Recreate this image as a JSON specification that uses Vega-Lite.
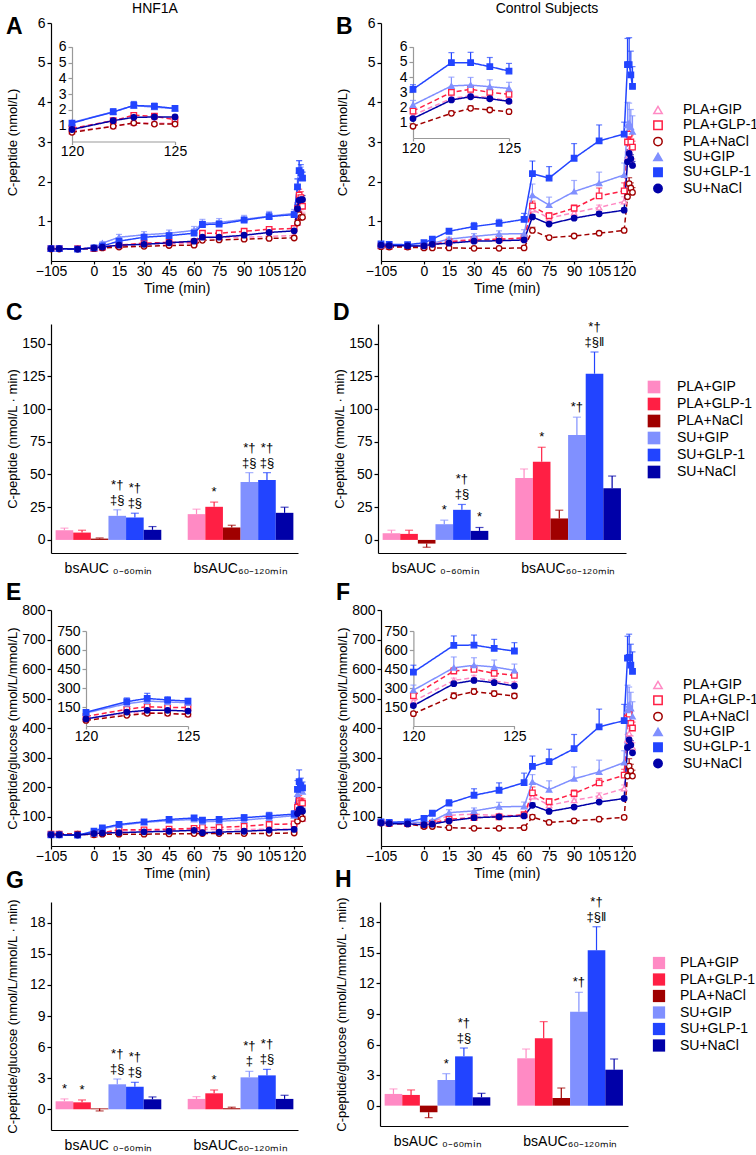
{
"$schema":"https://vega.github.io/schema/vega-lite/v6.json",
"padding":{"left":5,"top":2,"right":0,"bottom":0},
"background":"white",
"config":{
 "font":"Liberation Sans",
 "view":{"stroke":null},
 "axis":{"grid":false,"labelFontSize":14,"titleFontSize":13,"titleFontWeight":"normal","domainColor":"#000","tickColor":"#000","labelColor":"#000","titleColor":"#000","domainWidth":1.2,"tickWidth":1.2,"tickSize":4,"labelPadding":2},
 "axisX":{"tickSize":3,"labelPadding":0,"titlePadding":3},
 "axisY":{"minExtent":28,"maxExtent":28,"titlePadding":4},
 "legend":{"labelFontSize":14,"labelColor":"#000","padding":0,"rowPadding":0.3,"symbolSize":70,"symbolStrokeWidth":1.5,"labelOffset":18},
 "title":{"fontSize":23,"fontWeight":"bold","anchor":"start","frame":"bounds","color":"#000"}
},
"datasets":{
"lines":[
{"p":"A","g":"PLA+GIP","t":-105,"v":0.31,"h":0.33},{"p":"A","g":"PLA+GIP","t":-85,"v":0.31,"h":0.33},{"p":"A","g":"PLA+GIP","t":-40,"v":0.30,"h":0.32},{"p":"A","g":"PLA+GIP","t":0,"v":0.31,"h":0.33},{"p":"A","g":"PLA+GIP","t":5,"v":0.34,"h":0.36},{"p":"A","g":"PLA+GIP","t":15,"v":0.38,"h":0.41},{"p":"A","g":"PLA+GIP","t":30,"v":0.42,"h":0.45},{"p":"A","g":"PLA+GIP","t":45,"v":0.44,"h":0.47},{"p":"A","g":"PLA+GIP","t":60,"v":0.45,"h":0.48},{"p":"A","g":"PLA+GIP","t":65,"v":0.58,"h":0.63},{"p":"A","g":"PLA+GIP","t":75,"v":0.60,"h":0.65},{"p":"A","g":"PLA+GIP","t":90,"v":0.60,"h":0.65},{"p":"A","g":"PLA+GIP","t":105,"v":0.62,"h":0.67},{"p":"A","g":"PLA+GIP","t":120,"v":0.64,"h":0.69},{"p":"A","g":"PLA+GIP","t":122,"v":0.96,"h":1.06},{"p":"A","g":"PLA+GIP","t":123,"v":1.17,"h":1.29},{"p":"A","g":"PLA+GIP","t":124,"v":1.17,"h":1.29},{"p":"A","g":"PLA+GIP","t":125,"v":1.13,"h":1.23},
{"p":"A","g":"PLA+GLP-1","t":-105,"v":0.31,"h":0.33},{"p":"A","g":"PLA+GLP-1","t":-85,"v":0.31,"h":0.33},{"p":"A","g":"PLA+GLP-1","t":-40,"v":0.31,"h":0.33},{"p":"A","g":"PLA+GLP-1","t":0,"v":0.32,"h":0.34},{"p":"A","g":"PLA+GLP-1","t":5,"v":0.35,"h":0.37},{"p":"A","g":"PLA+GLP-1","t":15,"v":0.40,"h":0.43},{"p":"A","g":"PLA+GLP-1","t":30,"v":0.45,"h":0.48},{"p":"A","g":"PLA+GLP-1","t":45,"v":0.47,"h":0.50},{"p":"A","g":"PLA+GLP-1","t":60,"v":0.48,"h":0.51},{"p":"A","g":"PLA+GLP-1","t":65,"v":0.70,"h":0.76},{"p":"A","g":"PLA+GLP-1","t":75,"v":0.70,"h":0.76},{"p":"A","g":"PLA+GLP-1","t":90,"v":0.75,"h":0.81},{"p":"A","g":"PLA+GLP-1","t":105,"v":0.80,"h":0.86},{"p":"A","g":"PLA+GLP-1","t":120,"v":0.82,"h":0.88},{"p":"A","g":"PLA+GLP-1","t":122,"v":1.32,"h":1.47},{"p":"A","g":"PLA+GLP-1","t":123,"v":1.66,"h":1.81},{"p":"A","g":"PLA+GLP-1","t":124,"v":1.60,"h":1.75},{"p":"A","g":"PLA+GLP-1","t":125,"v":1.38,"h":1.50},
{"p":"A","g":"PLA+NaCl","t":-105,"v":0.30,"h":0.32},{"p":"A","g":"PLA+NaCl","t":-85,"v":0.30,"h":0.32},{"p":"A","g":"PLA+NaCl","t":-40,"v":0.30,"h":0.32},{"p":"A","g":"PLA+NaCl","t":0,"v":0.31,"h":0.33},{"p":"A","g":"PLA+NaCl","t":5,"v":0.33,"h":0.35},{"p":"A","g":"PLA+NaCl","t":15,"v":0.35,"h":0.37},{"p":"A","g":"PLA+NaCl","t":30,"v":0.37,"h":0.39},{"p":"A","g":"PLA+NaCl","t":45,"v":0.39,"h":0.41},{"p":"A","g":"PLA+NaCl","t":60,"v":0.40,"h":0.42},{"p":"A","g":"PLA+NaCl","t":65,"v":0.52,"h":0.56},{"p":"A","g":"PLA+NaCl","t":75,"v":0.53,"h":0.57},{"p":"A","g":"PLA+NaCl","t":90,"v":0.55,"h":0.59},{"p":"A","g":"PLA+NaCl","t":105,"v":0.57,"h":0.61},{"p":"A","g":"PLA+NaCl","t":120,"v":0.58,"h":0.62},{"p":"A","g":"PLA+NaCl","t":122,"v":0.96,"h":1.04},{"p":"A","g":"PLA+NaCl","t":123,"v":1.17,"h":1.25},{"p":"A","g":"PLA+NaCl","t":124,"v":1.10,"h":1.18},{"p":"A","g":"PLA+NaCl","t":125,"v":1.10,"h":1.18},
{"p":"A","g":"SU+GIP","t":-105,"v":0.31,"h":0.33},{"p":"A","g":"SU+GIP","t":-85,"v":0.31,"h":0.33},{"p":"A","g":"SU+GIP","t":-40,"v":0.30,"h":0.32},{"p":"A","g":"SU+GIP","t":0,"v":0.33,"h":0.35},{"p":"A","g":"SU+GIP","t":5,"v":0.45,"h":0.49},{"p":"A","g":"SU+GIP","t":15,"v":0.60,"h":0.67},{"p":"A","g":"SU+GIP","t":30,"v":0.66,"h":0.74},{"p":"A","g":"SU+GIP","t":45,"v":0.70,"h":0.78},{"p":"A","g":"SU+GIP","t":60,"v":0.77,"h":0.87},{"p":"A","g":"SU+GIP","t":65,"v":0.95,"h":1.05},{"p":"A","g":"SU+GIP","t":75,"v":0.97,"h":1.07},{"p":"A","g":"SU+GIP","t":90,"v":1.05,"h":1.15},{"p":"A","g":"SU+GIP","t":105,"v":1.13,"h":1.25},{"p":"A","g":"SU+GIP","t":120,"v":1.20,"h":1.30},{"p":"A","g":"SU+GIP","t":122,"v":1.87,"h":2.07},{"p":"A","g":"SU+GIP","t":123,"v":2.28,"h":2.53},{"p":"A","g":"SU+GIP","t":124,"v":2.17,"h":2.37},{"p":"A","g":"SU+GIP","t":125,"v":2.09,"h":2.24},
{"p":"A","g":"SU+GLP-1","t":-105,"v":0.31,"h":0.33},{"p":"A","g":"SU+GLP-1","t":-85,"v":0.31,"h":0.33},{"p":"A","g":"SU+GLP-1","t":-40,"v":0.30,"h":0.32},{"p":"A","g":"SU+GLP-1","t":0,"v":0.33,"h":0.35},{"p":"A","g":"SU+GLP-1","t":5,"v":0.38,"h":0.41},{"p":"A","g":"SU+GLP-1","t":15,"v":0.50,"h":0.55},{"p":"A","g":"SU+GLP-1","t":30,"v":0.60,"h":0.66},{"p":"A","g":"SU+GLP-1","t":45,"v":0.64,"h":0.70},{"p":"A","g":"SU+GLP-1","t":60,"v":0.70,"h":0.80},{"p":"A","g":"SU+GLP-1","t":65,"v":0.92,"h":1.00},{"p":"A","g":"SU+GLP-1","t":75,"v":0.93,"h":1.01},{"p":"A","g":"SU+GLP-1","t":90,"v":1.03,"h":1.11},{"p":"A","g":"SU+GLP-1","t":105,"v":1.12,"h":1.22},{"p":"A","g":"SU+GLP-1","t":120,"v":1.17,"h":1.25},{"p":"A","g":"SU+GLP-1","t":122,"v":1.87,"h":2.07},{"p":"A","g":"SU+GLP-1","t":123,"v":2.28,"h":2.53},{"p":"A","g":"SU+GLP-1","t":124,"v":2.23,"h":2.43},{"p":"A","g":"SU+GLP-1","t":125,"v":2.09,"h":2.24},
{"p":"A","g":"SU+NaCl","t":-105,"v":0.31,"h":0.33},{"p":"A","g":"SU+NaCl","t":-85,"v":0.31,"h":0.33},{"p":"A","g":"SU+NaCl","t":-40,"v":0.30,"h":0.32},{"p":"A","g":"SU+NaCl","t":0,"v":0.33,"h":0.35},{"p":"A","g":"SU+NaCl","t":5,"v":0.35,"h":0.37},{"p":"A","g":"SU+NaCl","t":15,"v":0.40,"h":0.42},{"p":"A","g":"SU+NaCl","t":30,"v":0.42,"h":0.44},{"p":"A","g":"SU+NaCl","t":45,"v":0.46,"h":0.48},{"p":"A","g":"SU+NaCl","t":60,"v":0.50,"h":0.52},{"p":"A","g":"SU+NaCl","t":65,"v":0.60,"h":0.64},{"p":"A","g":"SU+NaCl","t":75,"v":0.60,"h":0.64},{"p":"A","g":"SU+NaCl","t":90,"v":0.65,"h":0.69},{"p":"A","g":"SU+NaCl","t":105,"v":0.72,"h":0.76},{"p":"A","g":"SU+NaCl","t":120,"v":0.76,"h":0.80},{"p":"A","g":"SU+NaCl","t":122,"v":1.32,"h":1.42},{"p":"A","g":"SU+NaCl","t":123,"v":1.53,"h":1.63},{"p":"A","g":"SU+NaCl","t":124,"v":1.55,"h":1.65},{"p":"A","g":"SU+NaCl","t":125,"v":1.55,"h":1.65},

{"p":"B","g":"PLA+GIP","t":-105,"v":0.38,"h":0.40},{"p":"B","g":"PLA+GIP","t":-85,"v":0.37,"h":0.39},{"p":"B","g":"PLA+GIP","t":-40,"v":0.37,"h":0.39},{"p":"B","g":"PLA+GIP","t":0,"v":0.38,"h":0.40},{"p":"B","g":"PLA+GIP","t":5,"v":0.42,"h":0.45},{"p":"B","g":"PLA+GIP","t":15,"v":0.50,"h":0.54},{"p":"B","g":"PLA+GIP","t":30,"v":0.55,"h":0.60},{"p":"B","g":"PLA+GIP","t":45,"v":0.55,"h":0.60},{"p":"B","g":"PLA+GIP","t":60,"v":0.57,"h":0.62},{"p":"B","g":"PLA+GIP","t":65,"v":1.30,"h":1.40},{"p":"B","g":"PLA+GIP","t":75,"v":1.08,"h":1.13},{"p":"B","g":"PLA+GIP","t":90,"v":1.22,"h":1.28},{"p":"B","g":"PLA+GIP","t":105,"v":1.35,"h":1.41},{"p":"B","g":"PLA+GIP","t":120,"v":1.50,"h":1.62},{"p":"B","g":"PLA+GIP","t":122,"v":2.60,"h":2.75},{"p":"B","g":"PLA+GIP","t":123,"v":2.78,"h":2.93},{"p":"B","g":"PLA+GIP","t":124,"v":2.65,"h":2.78},{"p":"B","g":"PLA+GIP","t":125,"v":2.45,"h":2.57},
{"p":"B","g":"PLA+GLP-1","t":-105,"v":0.38,"h":0.40},{"p":"B","g":"PLA+GLP-1","t":-85,"v":0.37,"h":0.39},{"p":"B","g":"PLA+GLP-1","t":-40,"v":0.36,"h":0.38},{"p":"B","g":"PLA+GLP-1","t":0,"v":0.37,"h":0.39},{"p":"B","g":"PLA+GLP-1","t":5,"v":0.42,"h":0.45},{"p":"B","g":"PLA+GLP-1","t":15,"v":0.48,"h":0.52},{"p":"B","g":"PLA+GLP-1","t":30,"v":0.53,"h":0.58},{"p":"B","g":"PLA+GLP-1","t":45,"v":0.55,"h":0.60},{"p":"B","g":"PLA+GLP-1","t":60,"v":0.58,"h":0.63},{"p":"B","g":"PLA+GLP-1","t":65,"v":1.39,"h":1.51},{"p":"B","g":"PLA+GLP-1","t":75,"v":1.14,"h":1.22},{"p":"B","g":"PLA+GLP-1","t":90,"v":1.33,"h":1.41},{"p":"B","g":"PLA+GLP-1","t":105,"v":1.64,"h":1.84},{"p":"B","g":"PLA+GLP-1","t":120,"v":1.77,"h":1.97},{"p":"B","g":"PLA+GLP-1","t":122,"v":3.00,"h":3.20},{"p":"B","g":"PLA+GLP-1","t":123,"v":3.20,"h":3.40},{"p":"B","g":"PLA+GLP-1","t":124,"v":3.00,"h":3.18},{"p":"B","g":"PLA+GLP-1","t":125,"v":2.87,"h":3.02},
{"p":"B","g":"PLA+NaCl","t":-105,"v":0.36,"h":0.38},{"p":"B","g":"PLA+NaCl","t":-85,"v":0.35,"h":0.37},{"p":"B","g":"PLA+NaCl","t":-40,"v":0.35,"h":0.37},{"p":"B","g":"PLA+NaCl","t":0,"v":0.33,"h":0.35},{"p":"B","g":"PLA+NaCl","t":5,"v":0.33,"h":0.35},{"p":"B","g":"PLA+NaCl","t":15,"v":0.33,"h":0.35},{"p":"B","g":"PLA+NaCl","t":30,"v":0.32,"h":0.34},{"p":"B","g":"PLA+NaCl","t":45,"v":0.32,"h":0.34},{"p":"B","g":"PLA+NaCl","t":60,"v":0.33,"h":0.35},{"p":"B","g":"PLA+NaCl","t":65,"v":0.77,"h":0.85},{"p":"B","g":"PLA+NaCl","t":75,"v":0.59,"h":0.62},{"p":"B","g":"PLA+NaCl","t":90,"v":0.63,"h":0.66},{"p":"B","g":"PLA+NaCl","t":105,"v":0.70,"h":0.73},{"p":"B","g":"PLA+NaCl","t":120,"v":0.77,"h":0.82},{"p":"B","g":"PLA+NaCl","t":122,"v":1.62,"h":1.77},{"p":"B","g":"PLA+NaCl","t":123,"v":1.95,"h":2.10},{"p":"B","g":"PLA+NaCl","t":124,"v":1.84,"h":1.97},{"p":"B","g":"PLA+NaCl","t":125,"v":1.73,"h":1.85},
{"p":"B","g":"SU+GIP","t":-105,"v":0.40,"h":0.42},{"p":"B","g":"SU+GIP","t":-85,"v":0.40,"h":0.42},{"p":"B","g":"SU+GIP","t":-40,"v":0.40,"h":0.42},{"p":"B","g":"SU+GIP","t":0,"v":0.40,"h":0.42},{"p":"B","g":"SU+GIP","t":5,"v":0.45,"h":0.48},{"p":"B","g":"SU+GIP","t":15,"v":0.55,"h":0.60},{"p":"B","g":"SU+GIP","t":30,"v":0.62,"h":0.69},{"p":"B","g":"SU+GIP","t":45,"v":0.68,"h":0.76},{"p":"B","g":"SU+GIP","t":60,"v":0.69,"h":0.79},{"p":"B","g":"SU+GIP","t":65,"v":1.66,"h":1.94},{"p":"B","g":"SU+GIP","t":75,"v":1.41,"h":1.61},{"p":"B","g":"SU+GIP","t":90,"v":1.75,"h":2.03},{"p":"B","g":"SU+GIP","t":105,"v":1.96,"h":2.24},{"p":"B","g":"SU+GIP","t":120,"v":2.17,"h":2.47},{"p":"B","g":"SU+GIP","t":122,"v":3.42,"h":4.00},{"p":"B","g":"SU+GIP","t":123,"v":3.48,"h":3.98},{"p":"B","g":"SU+GIP","t":124,"v":3.37,"h":3.82},{"p":"B","g":"SU+GIP","t":125,"v":3.26,"h":3.66},
{"p":"B","g":"SU+GLP-1","t":-105,"v":0.43,"h":0.46},{"p":"B","g":"SU+GLP-1","t":-85,"v":0.42,"h":0.45},{"p":"B","g":"SU+GLP-1","t":-40,"v":0.41,"h":0.44},{"p":"B","g":"SU+GLP-1","t":0,"v":0.46,"h":0.50},{"p":"B","g":"SU+GLP-1","t":5,"v":0.55,"h":0.59},{"p":"B","g":"SU+GLP-1","t":15,"v":0.75,"h":0.81},{"p":"B","g":"SU+GLP-1","t":30,"v":0.87,"h":0.97},{"p":"B","g":"SU+GLP-1","t":45,"v":0.95,"h":1.05},{"p":"B","g":"SU+GLP-1","t":60,"v":1.05,"h":1.20},{"p":"B","g":"SU+GLP-1","t":65,"v":2.20,"h":2.52},{"p":"B","g":"SU+GLP-1","t":75,"v":2.09,"h":2.38},{"p":"B","g":"SU+GLP-1","t":90,"v":2.59,"h":2.96},{"p":"B","g":"SU+GLP-1","t":105,"v":3.03,"h":3.43},{"p":"B","g":"SU+GLP-1","t":120,"v":3.20,"h":3.50},{"p":"B","g":"SU+GLP-1","t":122,"v":4.95,"h":5.61},{"p":"B","g":"SU+GLP-1","t":123,"v":4.95,"h":5.63},{"p":"B","g":"SU+GLP-1","t":124,"v":4.69,"h":5.29},{"p":"B","g":"SU+GLP-1","t":125,"v":4.40,"h":4.90},
{"p":"B","g":"SU+NaCl","t":-105,"v":0.40,"h":0.42},{"p":"B","g":"SU+NaCl","t":-85,"v":0.39,"h":0.41},{"p":"B","g":"SU+NaCl","t":-40,"v":0.38,"h":0.40},{"p":"B","g":"SU+NaCl","t":0,"v":0.38,"h":0.40},{"p":"B","g":"SU+NaCl","t":5,"v":0.42,"h":0.44},{"p":"B","g":"SU+NaCl","t":15,"v":0.45,"h":0.47},{"p":"B","g":"SU+NaCl","t":30,"v":0.50,"h":0.52},{"p":"B","g":"SU+NaCl","t":45,"v":0.51,"h":0.53},{"p":"B","g":"SU+NaCl","t":60,"v":0.53,"h":0.55},{"p":"B","g":"SU+NaCl","t":65,"v":1.11,"h":1.16},{"p":"B","g":"SU+NaCl","t":75,"v":0.93,"h":0.98},{"p":"B","g":"SU+NaCl","t":90,"v":1.08,"h":1.13},{"p":"B","g":"SU+NaCl","t":105,"v":1.19,"h":1.24},{"p":"B","g":"SU+NaCl","t":120,"v":1.28,"h":1.33},{"p":"B","g":"SU+NaCl","t":122,"v":2.50,"h":2.60},{"p":"B","g":"SU+NaCl","t":123,"v":2.71,"h":2.81},{"p":"B","g":"SU+NaCl","t":124,"v":2.58,"h":2.68},{"p":"B","g":"SU+NaCl","t":125,"v":2.41,"h":2.51},

{"p":"E","g":"PLA+GIP","t":-105,"v":40,"h":43},{"p":"E","g":"PLA+GIP","t":-85,"v":40,"h":43},{"p":"E","g":"PLA+GIP","t":-40,"v":40,"h":43},{"p":"E","g":"PLA+GIP","t":0,"v":40,"h":43},{"p":"E","g":"PLA+GIP","t":5,"v":45,"h":48},{"p":"E","g":"PLA+GIP","t":15,"v":52,"h":56},{"p":"E","g":"PLA+GIP","t":30,"v":52,"h":56},{"p":"E","g":"PLA+GIP","t":45,"v":54,"h":58},{"p":"E","g":"PLA+GIP","t":60,"v":55,"h":59},{"p":"E","g":"PLA+GIP","t":65,"v":56,"h":61},{"p":"E","g":"PLA+GIP","t":75,"v":56,"h":61},{"p":"E","g":"PLA+GIP","t":90,"v":56,"h":61},{"p":"E","g":"PLA+GIP","t":105,"v":57,"h":62},{"p":"E","g":"PLA+GIP","t":120,"v":58,"h":63},{"p":"E","g":"PLA+GIP","t":122,"v":100,"h":110},{"p":"E","g":"PLA+GIP","t":123,"v":105,"h":115},{"p":"E","g":"PLA+GIP","t":124,"v":100,"h":110},{"p":"E","g":"PLA+GIP","t":125,"v":92,"h":102},
{"p":"E","g":"PLA+GLP-1","t":-105,"v":40,"h":43},{"p":"E","g":"PLA+GLP-1","t":-85,"v":40,"h":43},{"p":"E","g":"PLA+GLP-1","t":-40,"v":40,"h":43},{"p":"E","g":"PLA+GLP-1","t":0,"v":40,"h":43},{"p":"E","g":"PLA+GLP-1","t":5,"v":45,"h":48},{"p":"E","g":"PLA+GLP-1","t":15,"v":55,"h":59},{"p":"E","g":"PLA+GLP-1","t":30,"v":55,"h":59},{"p":"E","g":"PLA+GLP-1","t":45,"v":57,"h":62},{"p":"E","g":"PLA+GLP-1","t":60,"v":60,"h":65},{"p":"E","g":"PLA+GLP-1","t":65,"v":63,"h":69},{"p":"E","g":"PLA+GLP-1","t":75,"v":63,"h":69},{"p":"E","g":"PLA+GLP-1","t":90,"v":67,"h":75},{"p":"E","g":"PLA+GLP-1","t":105,"v":73,"h":81},{"p":"E","g":"PLA+GLP-1","t":120,"v":75,"h":83},{"p":"E","g":"PLA+GLP-1","t":122,"v":132,"h":147},{"p":"E","g":"PLA+GLP-1","t":123,"v":153,"h":171},{"p":"E","g":"PLA+GLP-1","t":124,"v":147,"h":162},{"p":"E","g":"PLA+GLP-1","t":125,"v":145,"h":160},
{"p":"E","g":"PLA+NaCl","t":-105,"v":40,"h":43},{"p":"E","g":"PLA+NaCl","t":-85,"v":40,"h":43},{"p":"E","g":"PLA+NaCl","t":-40,"v":40,"h":43},{"p":"E","g":"PLA+NaCl","t":0,"v":38,"h":41},{"p":"E","g":"PLA+NaCl","t":5,"v":40,"h":43},{"p":"E","g":"PLA+NaCl","t":15,"v":40,"h":43},{"p":"E","g":"PLA+NaCl","t":30,"v":40,"h":43},{"p":"E","g":"PLA+NaCl","t":45,"v":41,"h":44},{"p":"E","g":"PLA+NaCl","t":60,"v":42,"h":45},{"p":"E","g":"PLA+NaCl","t":65,"v":42,"h":45},{"p":"E","g":"PLA+NaCl","t":75,"v":42,"h":45},{"p":"E","g":"PLA+NaCl","t":90,"v":42,"h":45},{"p":"E","g":"PLA+NaCl","t":105,"v":43,"h":46},{"p":"E","g":"PLA+NaCl","t":120,"v":44,"h":47},{"p":"E","g":"PLA+NaCl","t":122,"v":84,"h":92},{"p":"E","g":"PLA+NaCl","t":123,"v":100,"h":108},{"p":"E","g":"PLA+NaCl","t":124,"v":100,"h":108},{"p":"E","g":"PLA+NaCl","t":125,"v":92,"h":100},
{"p":"E","g":"SU+GIP","t":-105,"v":38,"h":41},{"p":"E","g":"SU+GIP","t":-85,"v":38,"h":41},{"p":"E","g":"SU+GIP","t":-40,"v":37,"h":40},{"p":"E","g":"SU+GIP","t":0,"v":42,"h":45},{"p":"E","g":"SU+GIP","t":5,"v":58,"h":63},{"p":"E","g":"SU+GIP","t":15,"v":70,"h":76},{"p":"E","g":"SU+GIP","t":30,"v":80,"h":87},{"p":"E","g":"SU+GIP","t":45,"v":86,"h":93},{"p":"E","g":"SU+GIP","t":60,"v":90,"h":98},{"p":"E","g":"SU+GIP","t":65,"v":82,"h":90},{"p":"E","g":"SU+GIP","t":75,"v":84,"h":92},{"p":"E","g":"SU+GIP","t":90,"v":88,"h":96},{"p":"E","g":"SU+GIP","t":105,"v":95,"h":105},{"p":"E","g":"SU+GIP","t":120,"v":103,"h":113},{"p":"E","g":"SU+GIP","t":122,"v":176,"h":201},{"p":"E","g":"SU+GIP","t":123,"v":197,"h":222},{"p":"E","g":"SU+GIP","t":124,"v":190,"h":210},{"p":"E","g":"SU+GIP","t":125,"v":184,"h":202},
{"p":"E","g":"SU+GLP-1","t":-105,"v":38,"h":41},{"p":"E","g":"SU+GLP-1","t":-85,"v":38,"h":41},{"p":"E","g":"SU+GLP-1","t":-40,"v":37,"h":40},{"p":"E","g":"SU+GLP-1","t":0,"v":50,"h":54},{"p":"E","g":"SU+GLP-1","t":5,"v":61,"h":66},{"p":"E","g":"SU+GLP-1","t":15,"v":73,"h":79},{"p":"E","g":"SU+GLP-1","t":30,"v":82,"h":88},{"p":"E","g":"SU+GLP-1","t":45,"v":90,"h":96},{"p":"E","g":"SU+GLP-1","t":60,"v":95,"h":103},{"p":"E","g":"SU+GLP-1","t":65,"v":88,"h":96},{"p":"E","g":"SU+GLP-1","t":75,"v":90,"h":98},{"p":"E","g":"SU+GLP-1","t":90,"v":96,"h":106},{"p":"E","g":"SU+GLP-1","t":105,"v":102,"h":114},{"p":"E","g":"SU+GLP-1","t":120,"v":108,"h":120},{"p":"E","g":"SU+GLP-1","t":122,"v":192,"h":222},{"p":"E","g":"SU+GLP-1","t":123,"v":218,"h":258},{"p":"E","g":"SU+GLP-1","t":124,"v":205,"h":230},{"p":"E","g":"SU+GLP-1","t":125,"v":197,"h":217},
{"p":"E","g":"SU+NaCl","t":-105,"v":38,"h":41},{"p":"E","g":"SU+NaCl","t":-85,"v":38,"h":41},{"p":"E","g":"SU+NaCl","t":-40,"v":37,"h":40},{"p":"E","g":"SU+NaCl","t":0,"v":42,"h":45},{"p":"E","g":"SU+NaCl","t":5,"v":44,"h":47},{"p":"E","g":"SU+NaCl","t":15,"v":45,"h":48},{"p":"E","g":"SU+NaCl","t":30,"v":48,"h":51},{"p":"E","g":"SU+NaCl","t":45,"v":50,"h":53},{"p":"E","g":"SU+NaCl","t":60,"v":53,"h":57},{"p":"E","g":"SU+NaCl","t":65,"v":45,"h":49},{"p":"E","g":"SU+NaCl","t":75,"v":47,"h":51},{"p":"E","g":"SU+NaCl","t":90,"v":50,"h":54},{"p":"E","g":"SU+NaCl","t":105,"v":54,"h":58},{"p":"E","g":"SU+NaCl","t":120,"v":56,"h":60},{"p":"E","g":"SU+NaCl","t":122,"v":110,"h":120},{"p":"E","g":"SU+NaCl","t":123,"v":124,"h":134},{"p":"E","g":"SU+NaCl","t":124,"v":124,"h":134},{"p":"E","g":"SU+NaCl","t":125,"v":118,"h":128},

{"p":"F","g":"PLA+GIP","t":-105,"v":80,"h":84},{"p":"F","g":"PLA+GIP","t":-85,"v":77,"h":81},{"p":"F","g":"PLA+GIP","t":-40,"v":76,"h":80},{"p":"F","g":"PLA+GIP","t":0,"v":70,"h":74},{"p":"F","g":"PLA+GIP","t":5,"v":82,"h":87},{"p":"F","g":"PLA+GIP","t":15,"v":104,"h":110},{"p":"F","g":"PLA+GIP","t":30,"v":108,"h":114},{"p":"F","g":"PLA+GIP","t":45,"v":103,"h":109},{"p":"F","g":"PLA+GIP","t":60,"v":104,"h":110},{"p":"F","g":"PLA+GIP","t":65,"v":168,"h":180},{"p":"F","g":"PLA+GIP","t":75,"v":138,"h":146},{"p":"F","g":"PLA+GIP","t":90,"v":155,"h":163},{"p":"F","g":"PLA+GIP","t":105,"v":170,"h":180},{"p":"F","g":"PLA+GIP","t":120,"v":195,"h":207},{"p":"F","g":"PLA+GIP","t":122,"v":360,"h":378},{"p":"F","g":"PLA+GIP","t":123,"v":382,"h":400},{"p":"F","g":"PLA+GIP","t":124,"v":355,"h":373},{"p":"F","g":"PLA+GIP","t":125,"v":334,"h":350},
{"p":"F","g":"PLA+GLP-1","t":-105,"v":80,"h":84},{"p":"F","g":"PLA+GLP-1","t":-85,"v":77,"h":81},{"p":"F","g":"PLA+GLP-1","t":-40,"v":76,"h":80},{"p":"F","g":"PLA+GLP-1","t":0,"v":70,"h":74},{"p":"F","g":"PLA+GLP-1","t":5,"v":77,"h":82},{"p":"F","g":"PLA+GLP-1","t":15,"v":91,"h":97},{"p":"F","g":"PLA+GLP-1","t":30,"v":96,"h":102},{"p":"F","g":"PLA+GLP-1","t":45,"v":99,"h":105},{"p":"F","g":"PLA+GLP-1","t":60,"v":106,"h":112},{"p":"F","g":"PLA+GLP-1","t":65,"v":180,"h":200},{"p":"F","g":"PLA+GLP-1","t":75,"v":150,"h":160},{"p":"F","g":"PLA+GLP-1","t":90,"v":178,"h":190},{"p":"F","g":"PLA+GLP-1","t":105,"v":214,"h":229},{"p":"F","g":"PLA+GLP-1","t":120,"v":240,"h":260},{"p":"F","g":"PLA+GLP-1","t":122,"v":434,"h":459},{"p":"F","g":"PLA+GLP-1","t":123,"v":447,"h":472},{"p":"F","g":"PLA+GLP-1","t":124,"v":416,"h":438},{"p":"F","g":"PLA+GLP-1","t":125,"v":400,"h":420},
{"p":"F","g":"PLA+NaCl","t":-105,"v":78,"h":82},{"p":"F","g":"PLA+NaCl","t":-85,"v":76,"h":80},{"p":"F","g":"PLA+NaCl","t":-40,"v":75,"h":79},{"p":"F","g":"PLA+NaCl","t":0,"v":66,"h":70},{"p":"F","g":"PLA+NaCl","t":5,"v":66,"h":70},{"p":"F","g":"PLA+NaCl","t":15,"v":62,"h":66},{"p":"F","g":"PLA+NaCl","t":30,"v":60,"h":64},{"p":"F","g":"PLA+NaCl","t":45,"v":60,"h":64},{"p":"F","g":"PLA+NaCl","t":60,"v":62,"h":66},{"p":"F","g":"PLA+NaCl","t":65,"v":98,"h":106},{"p":"F","g":"PLA+NaCl","t":75,"v":80,"h":84},{"p":"F","g":"PLA+NaCl","t":90,"v":85,"h":89},{"p":"F","g":"PLA+NaCl","t":105,"v":91,"h":95},{"p":"F","g":"PLA+NaCl","t":120,"v":97,"h":102},{"p":"F","g":"PLA+NaCl","t":122,"v":237,"h":262},{"p":"F","g":"PLA+NaCl","t":123,"v":271,"h":296},{"p":"F","g":"PLA+NaCl","t":124,"v":255,"h":277},{"p":"F","g":"PLA+NaCl","t":125,"v":237,"h":257},
{"p":"F","g":"SU+GIP","t":-105,"v":80,"h":84},{"p":"F","g":"SU+GIP","t":-85,"v":80,"h":84},{"p":"F","g":"SU+GIP","t":-40,"v":82,"h":86},{"p":"F","g":"SU+GIP","t":0,"v":79,"h":83},{"p":"F","g":"SU+GIP","t":5,"v":85,"h":90},{"p":"F","g":"SU+GIP","t":15,"v":113,"h":123},{"p":"F","g":"SU+GIP","t":30,"v":119,"h":129},{"p":"F","g":"SU+GIP","t":45,"v":133,"h":148},{"p":"F","g":"SU+GIP","t":60,"v":134,"h":149},{"p":"F","g":"SU+GIP","t":65,"v":217,"h":242},{"p":"F","g":"SU+GIP","t":75,"v":191,"h":221},{"p":"F","g":"SU+GIP","t":90,"v":228,"h":268},{"p":"F","g":"SU+GIP","t":105,"v":251,"h":291},{"p":"F","g":"SU+GIP","t":120,"v":283,"h":323},{"p":"F","g":"SU+GIP","t":122,"v":460,"h":545},{"p":"F","g":"SU+GIP","t":123,"v":479,"h":539},{"p":"F","g":"SU+GIP","t":124,"v":466,"h":521},{"p":"F","g":"SU+GIP","t":125,"v":439,"h":489},
{"p":"F","g":"SU+GLP-1","t":-105,"v":82,"h":86},{"p":"F","g":"SU+GLP-1","t":-85,"v":80,"h":84},{"p":"F","g":"SU+GLP-1","t":-40,"v":82,"h":86},{"p":"F","g":"SU+GLP-1","t":0,"v":94,"h":99},{"p":"F","g":"SU+GLP-1","t":5,"v":111,"h":117},{"p":"F","g":"SU+GLP-1","t":15,"v":145,"h":157},{"p":"F","g":"SU+GLP-1","t":30,"v":172,"h":194},{"p":"F","g":"SU+GLP-1","t":45,"v":189,"h":214},{"p":"F","g":"SU+GLP-1","t":60,"v":215,"h":247},{"p":"F","g":"SU+GLP-1","t":65,"v":270,"h":305},{"p":"F","g":"SU+GLP-1","t":75,"v":286,"h":328},{"p":"F","g":"SU+GLP-1","t":90,"v":330,"h":378},{"p":"F","g":"SU+GLP-1","t":105,"v":404,"h":464},{"p":"F","g":"SU+GLP-1","t":120,"v":425,"h":480},{"p":"F","g":"SU+GLP-1","t":122,"v":637,"h":711},{"p":"F","g":"SU+GLP-1","t":123,"v":639,"h":718},{"p":"F","g":"SU+GLP-1","t":124,"v":613,"h":684},{"p":"F","g":"SU+GLP-1","t":125,"v":592,"h":658},
{"p":"F","g":"SU+NaCl","t":-105,"v":78,"h":82},{"p":"F","g":"SU+NaCl","t":-85,"v":76,"h":80},{"p":"F","g":"SU+NaCl","t":-40,"v":75,"h":79},{"p":"F","g":"SU+NaCl","t":0,"v":72,"h":76},{"p":"F","g":"SU+NaCl","t":5,"v":74,"h":78},{"p":"F","g":"SU+NaCl","t":15,"v":85,"h":90},{"p":"F","g":"SU+NaCl","t":30,"v":96,"h":101},{"p":"F","g":"SU+NaCl","t":45,"v":99,"h":104},{"p":"F","g":"SU+NaCl","t":60,"v":102,"h":107},{"p":"F","g":"SU+NaCl","t":65,"v":138,"h":146},{"p":"F","g":"SU+NaCl","t":75,"v":117,"h":122},{"p":"F","g":"SU+NaCl","t":90,"v":132,"h":137},{"p":"F","g":"SU+NaCl","t":105,"v":149,"h":154},{"p":"F","g":"SU+NaCl","t":120,"v":161,"h":167},{"p":"F","g":"SU+NaCl","t":122,"v":334,"h":349},{"p":"F","g":"SU+NaCl","t":123,"v":360,"h":375},{"p":"F","g":"SU+NaCl","t":124,"v":342,"h":357},{"p":"F","g":"SU+NaCl","t":125,"v":316,"h":328}
],
"bars":[
{"p":"C","c":"bsAUC ₀₋₆₀ₘᵢₙ","g":"PLA+GIP","v":7.4,"h":9.0,"a1":"","a2":""},{"p":"C","c":"bsAUC ₀₋₆₀ₘᵢₙ","g":"PLA+GLP-1","v":5.6,"h":7.4,"a1":"","a2":""},{"p":"C","c":"bsAUC ₀₋₆₀ₘᵢₙ","g":"PLA+NaCl","v":1.0,"h":1.5,"a1":"","a2":""},{"p":"C","c":"bsAUC ₀₋₆₀ₘᵢₙ","g":"SU+GIP","v":18.4,"h":23.0,"a1":"*†","a2":"‡§"},{"p":"C","c":"bsAUC ₀₋₆₀ₘᵢₙ","g":"SU+GLP-1","v":17.1,"h":20.4,"a1":"*†","a2":"‡§"},{"p":"C","c":"bsAUC ₀₋₆₀ₘᵢₙ","g":"SU+NaCl","v":7.7,"h":10.2,"a1":"","a2":""},
{"p":"C","c":"bsAUC₆₀₋₁₂₀ₘᵢₙ","g":"PLA+GIP","v":19.7,"h":23.5,"a1":"","a2":""},{"p":"C","c":"bsAUC₆₀₋₁₂₀ₘᵢₙ","g":"PLA+GLP-1","v":25.3,"h":28.9,"a1":"","a2":"*"},{"p":"C","c":"bsAUC₆₀₋₁₂₀ₘᵢₙ","g":"PLA+NaCl","v":9.5,"h":11.2,"a1":"","a2":""},{"p":"C","c":"bsAUC₆₀₋₁₂₀ₘᵢₙ","g":"SU+GIP","v":44.2,"h":51.4,"a1":"*†","a2":"‡§"},{"p":"C","c":"bsAUC₆₀₋₁₂₀ₘᵢₙ","g":"SU+GLP-1","v":45.7,"h":51.4,"a1":"*†","a2":"‡§"},{"p":"C","c":"bsAUC₆₀₋₁₂₀ₘᵢₙ","g":"SU+NaCl","v":20.7,"h":25.0,"a1":"","a2":""},
{"p":"D","c":"bsAUC ₀₋₆₀ₘᵢₙ","g":"PLA+GIP","v":5.1,"h":7.4,"a1":"","a2":""},{"p":"D","c":"bsAUC ₀₋₆₀ₘᵢₙ","g":"PLA+GLP-1","v":4.6,"h":7.4,"a1":"","a2":""},{"p":"D","c":"bsAUC ₀₋₆₀ₘᵢₙ","g":"PLA+NaCl","v":-2.8,"h":-5.6,"a1":"","a2":""},{"p":"D","c":"bsAUC ₀₋₆₀ₘᵢₙ","g":"SU+GIP","v":12.0,"h":15.1,"a1":"","a2":"*"},{"p":"D","c":"bsAUC ₀₋₆₀ₘᵢₙ","g":"SU+GLP-1","v":23.0,"h":27.1,"a1":"*†","a2":"‡§"},{"p":"D","c":"bsAUC ₀₋₆₀ₘᵢₙ","g":"SU+NaCl","v":6.9,"h":9.5,"a1":"","a2":"*"},
{"p":"D","c":"bsAUC₆₀₋₁₂₀ₘᵢₙ","g":"PLA+GIP","v":47.3,"h":54.2,"a1":"","a2":""},{"p":"D","c":"bsAUC₆₀₋₁₂₀ₘᵢₙ","g":"PLA+GLP-1","v":59.8,"h":70.8,"a1":"","a2":"*"},{"p":"D","c":"bsAUC₆₀₋₁₂₀ₘᵢₙ","g":"PLA+NaCl","v":16.4,"h":22.7,"a1":"","a2":""},{"p":"D","c":"bsAUC₆₀₋₁₂₀ₘᵢₙ","g":"SU+GIP","v":80.2,"h":93.8,"a1":"","a2":"*†"},{"p":"D","c":"bsAUC₆₀₋₁₂₀ₘᵢₙ","g":"SU+GLP-1","v":127.0,"h":143.6,"a1":"*†","a2":"‡§‖"},{"p":"D","c":"bsAUC₆₀₋₁₂₀ₘᵢₙ","g":"SU+NaCl","v":39.4,"h":48.8,"a1":"","a2":""},
{"p":"G","c":"bsAUC ₀₋₆₀ₘᵢₙ","g":"PLA+GIP","v":0.77,"h":1.0,"a1":"","a2":"*"},{"p":"G","c":"bsAUC ₀₋₆₀ₘᵢₙ","g":"PLA+GLP-1","v":0.67,"h":0.9,"a1":"","a2":"*"},{"p":"G","c":"bsAUC ₀₋₆₀ₘᵢₙ","g":"PLA+NaCl","v":0.08,"h":-0.16,"a1":"","a2":""},{"p":"G","c":"bsAUC ₀₋₆₀ₘᵢₙ","g":"SU+GIP","v":2.41,"h":2.92,"a1":"*†","a2":"‡§"},{"p":"G","c":"bsAUC ₀₋₆₀ₘᵢₙ","g":"SU+GLP-1","v":2.18,"h":2.6,"a1":"*†","a2":"‡§"},{"p":"G","c":"bsAUC ₀₋₆₀ₘᵢₙ","g":"SU+NaCl","v":0.96,"h":1.19,"a1":"","a2":""},
{"p":"G","c":"bsAUC₆₀₋₁₂₀ₘᵢₙ","g":"PLA+GIP","v":1.0,"h":1.22,"a1":"","a2":""},{"p":"G","c":"bsAUC₆₀₋₁₂₀ₘᵢₙ","g":"PLA+GLP-1","v":1.54,"h":1.86,"a1":"","a2":"*"},{"p":"G","c":"bsAUC₆₀₋₁₂₀ₘᵢₙ","g":"PLA+NaCl","v":0.1,"h":0.2,"a1":"","a2":""},{"p":"G","c":"bsAUC₆₀₋₁₂₀ₘᵢₙ","g":"SU+GIP","v":3.08,"h":3.66,"a1":"*†","a2":"‡"},{"p":"G","c":"bsAUC₆₀₋₁₂₀ₘᵢₙ","g":"SU+GLP-1","v":3.27,"h":3.85,"a1":"*†","a2":"‡§"},{"p":"G","c":"bsAUC₆₀₋₁₂₀ₘᵢₙ","g":"SU+NaCl","v":1.0,"h":1.35,"a1":"","a2":""},
{"p":"H","c":"bsAUC ₀₋₆₀ₘᵢₙ","g":"PLA+GIP","v":1.15,"h":1.64,"a1":"","a2":""},{"p":"H","c":"bsAUC ₀₋₆₀ₘᵢₙ","g":"PLA+GLP-1","v":1.05,"h":1.54,"a1":"","a2":""},{"p":"H","c":"bsAUC ₀₋₆₀ₘᵢₙ","g":"PLA+NaCl","v":-0.65,"h":-1.18,"a1":"","a2":""},{"p":"H","c":"bsAUC ₀₋₆₀ₘᵢₙ","g":"SU+GIP","v":2.52,"h":3.14,"a1":"","a2":"*"},{"p":"H","c":"bsAUC ₀₋₆₀ₘᵢₙ","g":"SU+GLP-1","v":4.84,"h":5.66,"a1":"*†","a2":"‡§"},{"p":"H","c":"bsAUC ₀₋₆₀ₘᵢₙ","g":"SU+NaCl","v":0.82,"h":1.21,"a1":"","a2":""},
{"p":"H","c":"bsAUC₆₀₋₁₂₀ₘᵢₙ","g":"PLA+GIP","v":4.65,"h":5.56,"a1":"","a2":""},{"p":"H","c":"bsAUC₆₀₋₁₂₀ₘᵢₙ","g":"PLA+GLP-1","v":6.61,"h":8.25,"a1":"","a2":""},{"p":"H","c":"bsAUC₆₀₋₁₂₀ₘᵢₙ","g":"PLA+NaCl","v":0.75,"h":1.73,"a1":"","a2":""},{"p":"H","c":"bsAUC₆₀₋₁₂₀ₘᵢₙ","g":"SU+GIP","v":9.23,"h":11.13,"a1":"","a2":"*†"},{"p":"H","c":"bsAUC₆₀₋₁₂₀ₘᵢₙ","g":"SU+GLP-1","v":15.25,"h":17.57,"a1":"*†","a2":"‡§‖"},{"p":"H","c":"bsAUC₆₀₋₁₂₀ₘᵢₙ","g":"SU+NaCl","v":3.53,"h":4.58,"a1":"","a2":""}
]
},
"spacing":-12,
"resolve":{"scale":{"stroke":"independent","fill":"independent","shape":"independent","strokeDash":"independent","color":"independent"}},
"vconcat":[
{"vconcat":[
{"hconcat":[
 {"title":{"text":"A","offset":-37},
  "resolve":{"scale":{"stroke":"independent","fill":"independent","shape":"independent","strokeDash":"independent","color":"independent"}},
  "vconcat":[
 {"width":254,"height":238,"title":{"text":"HNF1A","anchor":"middle","frame":"group","fontSize":14,"fontWeight":"normal","offset":0,"dx":-23},
  "layer":[
   {"data":{"name":"lines"},"transform":[{"filter":"datum.p=='A'"}],
    "encoding":{"x":{"field":"t","type":"quantitative","scale":{"domain":[-105,0,125],"range":[0,43,251.5],"nice":false},"axis":{"values":[-105,0,15,30,45,60,75,90,105,120],"title":"Time (min)","labelFlush":false,"titleFontSize":14}},
                "y":{"field":"v","type":"quantitative","scale":{"domain":[0,6],"nice":false},"axis":{"values":[1,2,3,4,5,6],"title":"C-peptide (nmol/L)"}}},
    "layer":[
     {"mark":{"type":"rule","strokeWidth":1.2},"encoding":{"y2":{"field":"h"},"color":{"field":"g","type":"nominal","legend":null,"scale":{"domain":["SU+NaCl","SU+GLP-1","SU+GIP","PLA+NaCl","PLA+GLP-1","PLA+GIP"],"range":["#0000A8","#2244FF","#8090FF","#A00000","#FF1F44","#FF8AC4"]}}}},
     {"mark":{"type":"tick","orient":"horizontal","size":6,"thickness":1.2},"encoding":{"y":{"field":"h","type":"quantitative","title":"C-peptide (nmol/L)"},"color":{"field":"g","type":"nominal","legend":null}}},
     {"mark":{"type":"line","strokeWidth":1.5},"encoding":{"color":{"field":"g","type":"nominal","legend":null},"strokeDash":{"field":"g","type":"nominal","legend":null,"scale":{"domain":["SU+NaCl","SU+GLP-1","SU+GIP","PLA+NaCl","PLA+GLP-1","PLA+GIP"],"range":[[1,0],[1,0],[1,0],[5,3],[5,3],[5,3]]}}}},
     {"mark":{"type":"point","size":30,"strokeWidth":1.3,"opacity":1},"encoding":{"stroke":{"field":"g","type":"nominal","legend":null,"scale":{"domain":["PLA+GIP","PLA+GLP-1","PLA+NaCl","SU+GIP","SU+GLP-1","SU+NaCl"],"range":["#FF8AC4","#FF1F44","#A00000","#8090FF","#2244FF","#0000A8"]}},"fill":{"field":"g","type":"nominal","legend":null,"scale":{"domain":["PLA+GIP","PLA+GLP-1","PLA+NaCl","SU+GIP","SU+GLP-1","SU+NaCl"],"range":["#FFFFFF","#FFFFFF","#FFFFFF","#8090FF","#2244FF","#0000A8"]}},"shape":{"field":"g","type":"nominal","legend":null,"scale":{"domain":["PLA+GIP","PLA+GLP-1","PLA+NaCl","SU+GIP","SU+GLP-1","SU+NaCl"],"range":["triangle-up","square","circle","triangle-up","square","circle"]}}}}
    ]},
   {"data":{"name":"lines"},"transform":[{"filter":"datum.p=='A' && datum.t>=120"}],
    "encoding":{"x":{"field":"t","type":"quantitative","scale":{"domain":[120,125],"range":[21,124],"nice":false},"axis":{"values":[120,125],"title":null,"orient":"bottom","offset":-119.5,"domainColor":"#999","tickColor":"#999","labelFlush":false}},
                "y":{"field":"v","type":"quantitative","scale":{"domain":[0,6],"range":[118.5,23.7],"nice":false},"axis":{"values":[1,2,3,4,5,6],"title":null,"orient":"left","offset":-21,"domainColor":"#999","tickColor":"#999","minExtent":0,"maxExtent":100}}},
    "layer":[
     {"mark":{"type":"rule","strokeWidth":1.2},"encoding":{"y2":{"field":"h"},"color":{"field":"g","type":"nominal","legend":null}}},
     {"mark":{"type":"tick","orient":"horizontal","size":6,"thickness":1.2},"encoding":{"y":{"field":"h","type":"quantitative"},"color":{"field":"g","type":"nominal","legend":null}}},
     {"mark":{"type":"line","strokeWidth":1.5},"encoding":{"color":{"field":"g","type":"nominal","legend":null},"strokeDash":{"field":"g","type":"nominal","legend":null}}},
     {"mark":{"type":"point","size":30,"strokeWidth":1.3,"opacity":1},"encoding":{"stroke":{"field":"g","type":"nominal","legend":null},"fill":{"field":"g","type":"nominal","legend":null},"shape":{"field":"g","type":"nominal","legend":null}}}
    ]}
  ],
  "resolve":{"scale":{"x":"independent","y":"independent"}}
 }]},
 {"title":{"text":"B","offset":-37},
  "resolve":{"scale":{"stroke":"independent","fill":"independent","shape":"independent","strokeDash":"independent","color":"independent"}},
  "vconcat":[
 {"width":254,"height":238,"title":{"text":"Control Subjects","anchor":"middle","frame":"group","fontSize":14,"fontWeight":"normal","offset":0,"dx":39},
  "layer":[
   {"data":{"name":"lines"},"transform":[{"filter":"datum.p=='B'"}],
    "encoding":{"x":{"field":"t","type":"quantitative","scale":{"domain":[-105,0,125],"range":[0,43,251.5],"nice":false},"axis":{"values":[-105,0,15,30,45,60,75,90,105,120],"title":"Time (min)","labelFlush":false,"titleFontSize":14}},
                "y":{"field":"v","type":"quantitative","scale":{"domain":[0,6],"nice":false},"axis":{"values":[1,2,3,4,5,6],"title":"C-peptide (nmol/L)"}}},
    "layer":[
     {"mark":{"type":"rule","strokeWidth":1.2},"encoding":{"y2":{"field":"h"},"color":{"field":"g","type":"nominal","legend":null,"scale":{"domain":["SU+NaCl","SU+GLP-1","SU+GIP","PLA+NaCl","PLA+GLP-1","PLA+GIP"],"range":["#0000A8","#2244FF","#8090FF","#A00000","#FF1F44","#FF8AC4"]}}}},
     {"mark":{"type":"tick","orient":"horizontal","size":6,"thickness":1.2},"encoding":{"y":{"field":"h","type":"quantitative","title":"C-peptide (nmol/L)"},"color":{"field":"g","type":"nominal","legend":null}}},
     {"mark":{"type":"line","strokeWidth":1.5},"encoding":{"color":{"field":"g","type":"nominal","legend":null},"strokeDash":{"field":"g","type":"nominal","legend":null,"scale":{"domain":["SU+NaCl","SU+GLP-1","SU+GIP","PLA+NaCl","PLA+GLP-1","PLA+GIP"],"range":[[1,0],[1,0],[1,0],[5,3],[5,3],[5,3]]}}}},
     {"mark":{"type":"point","size":30,"strokeWidth":1.3,"opacity":1},"encoding":{"stroke":{"field":"g","type":"nominal","legend":{"title":null,"orient":"none","legendX":270,"legendY":80},"scale":{"domain":["PLA+GIP","PLA+GLP-1","PLA+NaCl","SU+GIP","SU+GLP-1","SU+NaCl"],"range":["#FF8AC4","#FF1F44","#A00000","#8090FF","#2244FF","#0000A8"]}},"fill":{"field":"g","type":"nominal","legend":{"title":null,"orient":"none","legendX":270,"legendY":80},"scale":{"domain":["PLA+GIP","PLA+GLP-1","PLA+NaCl","SU+GIP","SU+GLP-1","SU+NaCl"],"range":["#FFFFFF","#FFFFFF","#FFFFFF","#8090FF","#2244FF","#0000A8"]}},"shape":{"field":"g","type":"nominal","legend":{"title":null,"orient":"none","legendX":270,"legendY":80},"scale":{"domain":["PLA+GIP","PLA+GLP-1","PLA+NaCl","SU+GIP","SU+GLP-1","SU+NaCl"],"range":["triangle-up","square","circle","triangle-up","square","circle"]}}}}
    ]},
   {"data":{"name":"lines"},"transform":[{"filter":"datum.p=='B' && datum.t>=120"}],
    "encoding":{"x":{"field":"t","type":"quantitative","scale":{"domain":[120,125],"range":[32,128],"nice":false},"axis":{"values":[120,125],"title":null,"orient":"bottom","offset":-123,"domainColor":"#999","tickColor":"#999","labelFlush":false}},
                "y":{"field":"v","type":"quantitative","scale":{"domain":[0,6],"range":[115,23.7],"nice":false},"axis":{"values":[1,2,3,4,5,6],"title":null,"orient":"left","offset":-32,"domainColor":"#999","tickColor":"#999","minExtent":0,"maxExtent":100}}},
    "layer":[
     {"mark":{"type":"rule","strokeWidth":1.2},"encoding":{"y2":{"field":"h"},"color":{"field":"g","type":"nominal","legend":null}}},
     {"mark":{"type":"tick","orient":"horizontal","size":6,"thickness":1.2},"encoding":{"y":{"field":"h","type":"quantitative"},"color":{"field":"g","type":"nominal","legend":null}}},
     {"mark":{"type":"line","strokeWidth":1.5},"encoding":{"color":{"field":"g","type":"nominal","legend":null},"strokeDash":{"field":"g","type":"nominal","legend":null}}},
     {"mark":{"type":"point","size":30,"strokeWidth":1.3,"opacity":1},"encoding":{"stroke":{"field":"g","type":"nominal"},"fill":{"field":"g","type":"nominal"},"shape":{"field":"g","type":"nominal"}}}
    ]}
  ],
  "resolve":{"scale":{"x":"independent","y":"independent"}}
 }]}
],"spacing":28,"resolve":{"scale":{"stroke":"independent","fill":"independent","shape":"independent","strokeDash":"independent","color":"independent"}}},

{"hconcat":[
 {"width":247,"height":229,"title":{"text":"C","offset":-1},
  "data":{"name":"bars"},"transform":[{"filter":"datum.p=='C'"}],
  "encoding":{"y":{"field":"v","type":"quantitative","scale":{"domain":[-10,165],"nice":false},"axis":{"values":[0,25,50,75,100,125,150],"title":"C-peptide (nmol/L · min)"}}},
  "layer":[
   {"mark":{"type":"bar"},"encoding":{"x":{"field":"c","type":"nominal","sort":null,"scale":{"paddingInner":0.2,"paddingOuter":0.035},"axis":{"title":null,"ticks":false,"labelAngle":0,"labelPadding":8}},"xOffset":{"field":"g","type":"nominal","sort":null,"scale":{"paddingInner":0,"paddingOuter":0}},"fill":{"field":"g","type":"nominal","legend":null,"scale":{"domain":["PLA+GIP","PLA+GLP-1","PLA+NaCl","SU+GIP","SU+GLP-1","SU+NaCl"],"range":["#FF8AC4","#FF1F44","#A00000","#8090FF","#2244FF","#0000A8"]}}}},
   {"mark":{"type":"rule","strokeWidth":1.2},"encoding":{"x":{"field":"c","type":"nominal","sort":null},"xOffset":{"field":"g","type":"nominal","sort":null},"y2":{"field":"h"},"color":{"field":"g","type":"nominal","legend":null,"scale":{"domain":["PLA+GIP","PLA+GLP-1","PLA+NaCl","SU+GIP","SU+GLP-1","SU+NaCl"],"range":["#FF8AC4","#FF1F44","#A00000","#8090FF","#2244FF","#0000A8"]}}}},
   {"mark":{"type":"tick","orient":"horizontal","size":8,"thickness":1.2},"encoding":{"x":{"field":"c","type":"nominal","sort":null},"xOffset":{"field":"g","type":"nominal","sort":null},"y":{"field":"h","type":"quantitative","title":"C-peptide (nmol/L · min)"},"color":{"field":"g","type":"nominal","legend":null}}},
   {"mark":{"type":"text","baseline":"bottom","dy":-3,"fontSize":13},"encoding":{"x":{"field":"c","type":"nominal","sort":null},"xOffset":{"field":"g","type":"nominal","sort":null},"y":{"field":"h","type":"quantitative"},"text":{"field":"a2"}}},
   {"mark":{"type":"text","baseline":"bottom","dy":-18,"fontSize":13},"encoding":{"x":{"field":"c","type":"nominal","sort":null},"xOffset":{"field":"g","type":"nominal","sort":null},"y":{"field":"h","type":"quantitative"},"text":{"field":"a1"}}},
   {"data":{"values":[{}]},"mark":{"type":"rule","color":"#000","strokeWidth":1.2},"encoding":{"y":{"datum":0}}}
  ]},
 {"width":248,"height":229,"title":{"text":"D","offset":-4},
  "data":{"name":"bars"},"transform":[{"filter":"datum.p=='D'"}],
  "encoding":{"y":{"field":"v","type":"quantitative","scale":{"domain":[-10,165],"nice":false},"axis":{"values":[0,25,50,75,100,125,150],"title":"C-peptide (nmol/L · min)"}}},
  "layer":[
   {"mark":{"type":"bar"},"encoding":{"x":{"field":"c","type":"nominal","sort":null,"scale":{"paddingInner":0.2,"paddingOuter":0.035},"axis":{"title":null,"ticks":false,"labelAngle":0,"labelPadding":8}},"xOffset":{"field":"g","type":"nominal","sort":null,"scale":{"paddingInner":0,"paddingOuter":0}},"fill":{"field":"g","type":"nominal","legend":{"title":null,"orient":"none","legendX":269,"legendY":56,"symbolType":"square","symbolSize":160,"symbolStrokeWidth":0,"labelOffset":16,"rowPadding":3},"scale":{"domain":["PLA+GIP","PLA+GLP-1","PLA+NaCl","SU+GIP","SU+GLP-1","SU+NaCl"],"range":["#FF8AC4","#FF1F44","#A00000","#8090FF","#2244FF","#0000A8"]}}}},
   {"mark":{"type":"rule","strokeWidth":1.2},"encoding":{"x":{"field":"c","type":"nominal","sort":null},"xOffset":{"field":"g","type":"nominal","sort":null},"y2":{"field":"h"},"color":{"field":"g","type":"nominal","legend":null,"scale":{"domain":["PLA+GIP","PLA+GLP-1","PLA+NaCl","SU+GIP","SU+GLP-1","SU+NaCl"],"range":["#FF8AC4","#FF1F44","#A00000","#8090FF","#2244FF","#0000A8"]}}}},
   {"mark":{"type":"tick","orient":"horizontal","size":8,"thickness":1.2},"encoding":{"x":{"field":"c","type":"nominal","sort":null},"xOffset":{"field":"g","type":"nominal","sort":null},"y":{"field":"h","type":"quantitative","title":"C-peptide (nmol/L · min)"},"color":{"field":"g","type":"nominal","legend":null}}},
   {"mark":{"type":"text","baseline":"bottom","dy":-3,"fontSize":13},"encoding":{"x":{"field":"c","type":"nominal","sort":null},"xOffset":{"field":"g","type":"nominal","sort":null},"y":{"field":"h","type":"quantitative"},"text":{"field":"a2"}}},
   {"mark":{"type":"text","baseline":"bottom","dy":-18,"fontSize":13},"encoding":{"x":{"field":"c","type":"nominal","sort":null},"xOffset":{"field":"g","type":"nominal","sort":null},"y":{"field":"h","type":"quantitative"},"text":{"field":"a1"}}},
   {"data":{"values":[{}]},"mark":{"type":"rule","color":"#000","strokeWidth":1.2},"encoding":{"y":{"datum":0}}}
  ]}
],"spacing":35,"resolve":{"scale":{"stroke":"independent","fill":"independent","shape":"independent","strokeDash":"independent","color":"independent"}}},

{"hconcat":[
 {"width":254,"height":236,"title":{"text":"E","offset":-2},
  "layer":[
   {"data":{"name":"lines"},"transform":[{"filter":"datum.p=='E'"}],
    "encoding":{"x":{"field":"t","type":"quantitative","scale":{"domain":[-105,0,125],"range":[0,43,251.5],"nice":false},"axis":{"values":[-105,0,15,30,45,60,75,90,105,120],"title":"Time (min)","labelFlush":false,"titleFontSize":14}},
                "y":{"field":"v","type":"quantitative","scale":{"domain":[0,800],"nice":false},"axis":{"values":[100,200,300,400,500,600,700,800],"title":"C-peptide/glucose (nmol/L/mmol/L)"}}},
    "layer":[
     {"mark":{"type":"rule","strokeWidth":1.2},"encoding":{"y2":{"field":"h"},"color":{"field":"g","type":"nominal","legend":null,"scale":{"domain":["SU+NaCl","SU+GLP-1","SU+GIP","PLA+NaCl","PLA+GLP-1","PLA+GIP"],"range":["#0000A8","#2244FF","#8090FF","#A00000","#FF1F44","#FF8AC4"]}}}},
     {"mark":{"type":"tick","orient":"horizontal","size":6,"thickness":1.2},"encoding":{"y":{"field":"h","type":"quantitative","title":"C-peptide/glucose (nmol/L/mmol/L)"},"color":{"field":"g","type":"nominal","legend":null}}},
     {"mark":{"type":"line","strokeWidth":1.5},"encoding":{"color":{"field":"g","type":"nominal","legend":null},"strokeDash":{"field":"g","type":"nominal","legend":null,"scale":{"domain":["SU+NaCl","SU+GLP-1","SU+GIP","PLA+NaCl","PLA+GLP-1","PLA+GIP"],"range":[[1,0],[1,0],[1,0],[5,3],[5,3],[5,3]]}}}},
     {"mark":{"type":"point","size":30,"strokeWidth":1.3,"opacity":1},"encoding":{"stroke":{"field":"g","type":"nominal","legend":null,"scale":{"domain":["PLA+GIP","PLA+GLP-1","PLA+NaCl","SU+GIP","SU+GLP-1","SU+NaCl"],"range":["#FF8AC4","#FF1F44","#A00000","#8090FF","#2244FF","#0000A8"]}},"fill":{"field":"g","type":"nominal","legend":null,"scale":{"domain":["PLA+GIP","PLA+GLP-1","PLA+NaCl","SU+GIP","SU+GLP-1","SU+NaCl"],"range":["#FFFFFF","#FFFFFF","#FFFFFF","#8090FF","#2244FF","#0000A8"]}},"shape":{"field":"g","type":"nominal","legend":null,"scale":{"domain":["PLA+GIP","PLA+GLP-1","PLA+NaCl","SU+GIP","SU+GLP-1","SU+NaCl"],"range":["triangle-up","square","circle","triangle-up","square","circle"]}}}}
    ]},
   {"data":{"name":"lines"},"transform":[{"filter":"datum.p=='E' && datum.t>=120"}],
    "encoding":{"x":{"field":"t","type":"quantitative","scale":{"domain":[120,125],"range":[35,137],"nice":false},"axis":{"values":[120,125],"title":null,"orient":"bottom","offset":-120,"domainColor":"#999","tickColor":"#999","labelFlush":false}},
                "y":{"field":"v","type":"quantitative","scale":{"domain":[0,750],"range":[116,21],"nice":false},"axis":{"values":[150,300,450,600,750],"title":null,"orient":"left","offset":-35,"domainColor":"#999","tickColor":"#999","minExtent":0,"maxExtent":100}}},
    "layer":[
     {"mark":{"type":"rule","strokeWidth":1.2},"encoding":{"y2":{"field":"h"},"color":{"field":"g","type":"nominal","legend":null}}},
     {"mark":{"type":"tick","orient":"horizontal","size":6,"thickness":1.2},"encoding":{"y":{"field":"h","type":"quantitative"},"color":{"field":"g","type":"nominal","legend":null}}},
     {"mark":{"type":"line","strokeWidth":1.5},"encoding":{"color":{"field":"g","type":"nominal","legend":null},"strokeDash":{"field":"g","type":"nominal","legend":null}}},
     {"mark":{"type":"point","size":30,"strokeWidth":1.3,"opacity":1},"encoding":{"stroke":{"field":"g","type":"nominal","legend":null},"fill":{"field":"g","type":"nominal","legend":null},"shape":{"field":"g","type":"nominal","legend":null}}}
    ]}
  ],
  "resolve":{"scale":{"x":"independent","y":"independent"}}
 },
 {"width":254,"height":236,"title":{"text":"F","offset":-2},
  "layer":[
   {"data":{"name":"lines"},"transform":[{"filter":"datum.p=='F'"}],
    "encoding":{"x":{"field":"t","type":"quantitative","scale":{"domain":[-105,0,125],"range":[0,43,251.5],"nice":false},"axis":{"values":[-105,0,15,30,45,60,75,90,105,120],"title":"Time (min)","labelFlush":false,"titleFontSize":14}},
                "y":{"field":"v","type":"quantitative","scale":{"domain":[0,800],"nice":false},"axis":{"values":[100,200,300,400,500,600,700,800],"title":"C-peptide/glucose (nmol/L/mmol/L)"}}},
    "layer":[
     {"mark":{"type":"rule","strokeWidth":1.2},"encoding":{"y2":{"field":"h"},"color":{"field":"g","type":"nominal","legend":null,"scale":{"domain":["SU+NaCl","SU+GLP-1","SU+GIP","PLA+NaCl","PLA+GLP-1","PLA+GIP"],"range":["#0000A8","#2244FF","#8090FF","#A00000","#FF1F44","#FF8AC4"]}}}},
     {"mark":{"type":"tick","orient":"horizontal","size":6,"thickness":1.2},"encoding":{"y":{"field":"h","type":"quantitative","title":"C-peptide/glucose (nmol/L/mmol/L)"},"color":{"field":"g","type":"nominal","legend":null}}},
     {"mark":{"type":"line","strokeWidth":1.5},"encoding":{"color":{"field":"g","type":"nominal","legend":null},"strokeDash":{"field":"g","type":"nominal","legend":null,"scale":{"domain":["SU+NaCl","SU+GLP-1","SU+GIP","PLA+NaCl","PLA+GLP-1","PLA+GIP"],"range":[[1,0],[1,0],[1,0],[5,3],[5,3],[5,3]]}}}},
     {"mark":{"type":"point","size":30,"strokeWidth":1.3,"opacity":1},"encoding":{"stroke":{"field":"g","type":"nominal","legend":{"title":null,"orient":"none","legendX":270,"legendY":68},"scale":{"domain":["PLA+GIP","PLA+GLP-1","PLA+NaCl","SU+GIP","SU+GLP-1","SU+NaCl"],"range":["#FF8AC4","#FF1F44","#A00000","#8090FF","#2244FF","#0000A8"]}},"fill":{"field":"g","type":"nominal","legend":{"title":null,"orient":"none","legendX":270,"legendY":68},"scale":{"domain":["PLA+GIP","PLA+GLP-1","PLA+NaCl","SU+GIP","SU+GLP-1","SU+NaCl"],"range":["#FFFFFF","#FFFFFF","#FFFFFF","#8090FF","#2244FF","#0000A8"]}},"shape":{"field":"g","type":"nominal","legend":{"title":null,"orient":"none","legendX":270,"legendY":68},"scale":{"domain":["PLA+GIP","PLA+GLP-1","PLA+NaCl","SU+GIP","SU+GLP-1","SU+NaCl"],"range":["triangle-up","square","circle","triangle-up","square","circle"]}}}}
    ]},
   {"data":{"name":"lines"},"transform":[{"filter":"datum.p=='F' && datum.t>=120"}],
    "encoding":{"x":{"field":"t","type":"quantitative","scale":{"domain":[120,125],"range":[32.4,133.4],"nice":false},"axis":{"values":[120,125],"title":null,"orient":"bottom","offset":-120,"domainColor":"#999","tickColor":"#999","labelFlush":false}},
                "y":{"field":"v","type":"quantitative","scale":{"domain":[0,750],"range":[116,21],"nice":false},"axis":{"values":[150,300,450,600,750],"title":null,"orient":"left","offset":-32.4,"domainColor":"#999","tickColor":"#999","minExtent":0,"maxExtent":100}}},
    "layer":[
     {"mark":{"type":"rule","strokeWidth":1.2},"encoding":{"y2":{"field":"h"},"color":{"field":"g","type":"nominal","legend":null}}},
     {"mark":{"type":"tick","orient":"horizontal","size":6,"thickness":1.2},"encoding":{"y":{"field":"h","type":"quantitative"},"color":{"field":"g","type":"nominal","legend":null}}},
     {"mark":{"type":"line","strokeWidth":1.5},"encoding":{"color":{"field":"g","type":"nominal","legend":null},"strokeDash":{"field":"g","type":"nominal","legend":null}}},
     {"mark":{"type":"point","size":30,"strokeWidth":1.3,"opacity":1},"encoding":{"stroke":{"field":"g","type":"nominal"},"fill":{"field":"g","type":"nominal"},"shape":{"field":"g","type":"nominal"}}}
    ]}
  ],
  "resolve":{"scale":{"x":"independent","y":"independent"}}
 }
],"spacing":28,"resolve":{"scale":{"stroke":"independent","fill":"independent","shape":"independent","strokeDash":"independent","color":"independent"}}}
],"spacing":7,"resolve":{"scale":{"stroke":"independent","fill":"independent","shape":"independent","strokeDash":"independent","color":"independent"}}},

{"hconcat":[
 {"width":247,"height":228,"title":{"text":"G","offset":6},
  "data":{"name":"bars"},"transform":[{"filter":"datum.p=='G'"}],
  "encoding":{"y":{"field":"v","type":"quantitative","scale":{"domain":[-2,20],"nice":false},"axis":{"values":[0,3,6,9,12,15,18],"title":"C-peptide/glucose (nmol/L/mmol/L · min)"}}},
  "layer":[
   {"mark":{"type":"bar"},"encoding":{"x":{"field":"c","type":"nominal","sort":null,"scale":{"paddingInner":0.2,"paddingOuter":0.035},"axis":{"title":null,"ticks":false,"labelAngle":0,"labelPadding":8}},"xOffset":{"field":"g","type":"nominal","sort":null,"scale":{"paddingInner":0,"paddingOuter":0}},"fill":{"field":"g","type":"nominal","legend":null,"scale":{"domain":["PLA+GIP","PLA+GLP-1","PLA+NaCl","SU+GIP","SU+GLP-1","SU+NaCl"],"range":["#FF8AC4","#FF1F44","#A00000","#8090FF","#2244FF","#0000A8"]}}}},
   {"mark":{"type":"rule","strokeWidth":1.2},"encoding":{"x":{"field":"c","type":"nominal","sort":null},"xOffset":{"field":"g","type":"nominal","sort":null},"y2":{"field":"h"},"color":{"field":"g","type":"nominal","legend":null,"scale":{"domain":["PLA+GIP","PLA+GLP-1","PLA+NaCl","SU+GIP","SU+GLP-1","SU+NaCl"],"range":["#FF8AC4","#FF1F44","#A00000","#8090FF","#2244FF","#0000A8"]}}}},
   {"mark":{"type":"tick","orient":"horizontal","size":8,"thickness":1.2},"encoding":{"x":{"field":"c","type":"nominal","sort":null},"xOffset":{"field":"g","type":"nominal","sort":null},"y":{"field":"h","type":"quantitative","title":"C-peptide/glucose (nmol/L/mmol/L · min)"},"color":{"field":"g","type":"nominal","legend":null}}},
   {"mark":{"type":"text","baseline":"bottom","dy":-3,"fontSize":13},"encoding":{"x":{"field":"c","type":"nominal","sort":null},"xOffset":{"field":"g","type":"nominal","sort":null},"y":{"field":"h","type":"quantitative"},"text":{"field":"a2"}}},
   {"mark":{"type":"text","baseline":"bottom","dy":-18,"fontSize":13},"encoding":{"x":{"field":"c","type":"nominal","sort":null},"xOffset":{"field":"g","type":"nominal","sort":null},"y":{"field":"h","type":"quantitative"},"text":{"field":"a1"}}},
   {"data":{"values":[{}]},"mark":{"type":"rule","color":"#000","strokeWidth":1.2},"encoding":{"y":{"datum":0}}}
  ]},
 {"width":248,"height":224,"title":{"text":"H","offset":4},
  "data":{"name":"bars"},"transform":[{"filter":"datum.p=='H'"}],
  "encoding":{"y":{"field":"v","type":"quantitative","scale":{"domain":[-2,20],"nice":false},"axis":{"values":[0,3,6,9,12,15,18],"title":"C-peptide/glucose (nmol/L/mmol/L · min)"}}},
  "layer":[
   {"mark":{"type":"bar"},"encoding":{"x":{"field":"c","type":"nominal","sort":null,"scale":{"paddingInner":0.2,"paddingOuter":0.035},"axis":{"title":null,"ticks":false,"labelAngle":0,"labelPadding":8}},"xOffset":{"field":"g","type":"nominal","sort":null,"scale":{"paddingInner":0,"paddingOuter":0}},"fill":{"field":"g","type":"nominal","legend":{"title":null,"orient":"none","legendX":272,"legendY":54,"symbolType":"square","symbolSize":150,"symbolStrokeWidth":0,"labelOffset":14,"rowPadding":2.5},"scale":{"domain":["PLA+GIP","PLA+GLP-1","PLA+NaCl","SU+GIP","SU+GLP-1","SU+NaCl"],"range":["#FF8AC4","#FF1F44","#A00000","#8090FF","#2244FF","#0000A8"]}}}},
   {"mark":{"type":"rule","strokeWidth":1.2},"encoding":{"x":{"field":"c","type":"nominal","sort":null},"xOffset":{"field":"g","type":"nominal","sort":null},"y2":{"field":"h"},"color":{"field":"g","type":"nominal","legend":null,"scale":{"domain":["PLA+GIP","PLA+GLP-1","PLA+NaCl","SU+GIP","SU+GLP-1","SU+NaCl"],"range":["#FF8AC4","#FF1F44","#A00000","#8090FF","#2244FF","#0000A8"]}}}},
   {"mark":{"type":"tick","orient":"horizontal","size":8,"thickness":1.2},"encoding":{"x":{"field":"c","type":"nominal","sort":null},"xOffset":{"field":"g","type":"nominal","sort":null},"y":{"field":"h","type":"quantitative","title":"C-peptide/glucose (nmol/L/mmol/L · min)"},"color":{"field":"g","type":"nominal","legend":null}}},
   {"mark":{"type":"text","baseline":"bottom","dy":-3,"fontSize":13},"encoding":{"x":{"field":"c","type":"nominal","sort":null},"xOffset":{"field":"g","type":"nominal","sort":null},"y":{"field":"h","type":"quantitative"},"text":{"field":"a2"}}},
   {"mark":{"type":"text","baseline":"bottom","dy":-18,"fontSize":13},"encoding":{"x":{"field":"c","type":"nominal","sort":null},"xOffset":{"field":"g","type":"nominal","sort":null},"y":{"field":"h","type":"quantitative"},"text":{"field":"a1"}}},
   {"data":{"values":[{}]},"mark":{"type":"rule","color":"#000","strokeWidth":1.2},"encoding":{"y":{"datum":0}}}
  ]}
],"spacing":36,"resolve":{"scale":{"stroke":"independent","fill":"independent","shape":"independent","strokeDash":"independent","color":"independent"}}}
]
}
